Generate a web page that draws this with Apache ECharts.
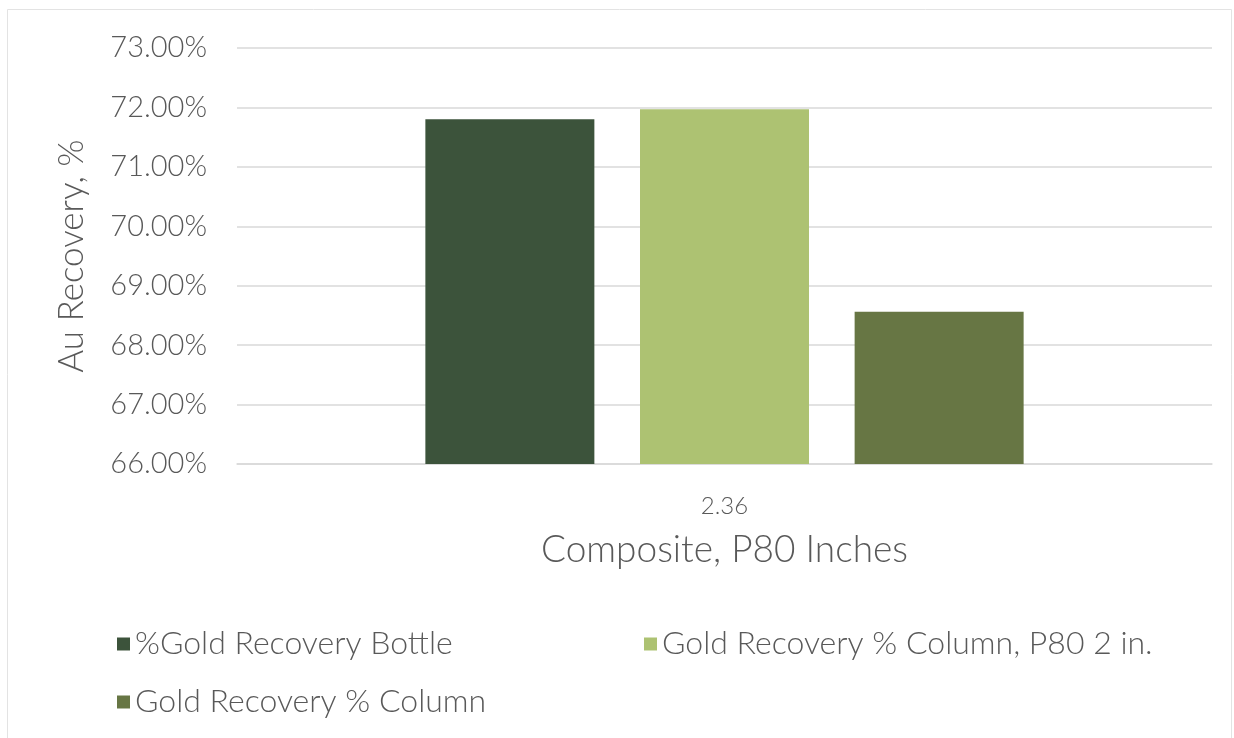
<!DOCTYPE html>
<html>
<head>
<meta charset="utf-8">
<script src="https://cdn.jsdelivr.net/npm/echarts@6/dist/echarts.min.js"></script>
<style>
html,body{margin:0;padding:0;background:#fff;}
#chart{width:1234px;height:738px;}
</style>
</head>
<body>
<div id="chart"></div>
<script>
const categories = ['2.36'];
const seriesNames = ['%Gold Recovery Bottle', 'Gold Recovery % Column, P80 2 in.', 'Gold Recovery % Column'];
const bottleValues = [71.80];
const columnP80Values = [71.97];
const columnValues = [68.56];
const yTicks = { min: 66, max: 73, interval: 1 };
const colors = ['#3c533b', '#adc272', '#677644'];

const FONT = 'Lato';
const TXT = '#595959';
const chart = echarts.init(document.getElementById('chart'));
const legendText = { color: TXT, fontSize: 32, fontFamily: FONT, fontWeight: 300 };
function legend(name, left, top) {
  return { data: [name], left: left, top: top, itemWidth: 13, itemHeight: 13, itemGap: 6, icon: 'rect', textStyle: legendText, selectedMode: false };
}
chart.setOption({
  animation: false,
  textStyle: { fontFamily: FONT },
  graphic: [{ type: 'rect', shape: { x: 7.5, y: 9.5, width: 1224, height: 740 }, style: { fill: 'none', stroke: '#e3e3e3', lineWidth: 1 } }],
  grid: { left: 237, right: 22, top: 48, bottom: 274 },
  legend: [
    legend(seriesNames[0], 112, 623),
    legend(seriesNames[1], 639, 623),
    legend(seriesNames[2], 112, 681)
  ],
  xAxis: {
    type: 'category', data: categories,
    axisLine: { lineStyle: { color: '#d9d9d9', width: 1.5 } },
    axisTick: { show: false },
    axisLabel: { color: TXT, fontSize: 24, fontWeight: 300, margin: 30 },
    name: 'Composite, P80 Inches', nameLocation: 'middle', nameGap: 68,
    nameTextStyle: { color: TXT, fontSize: 37, fontWeight: 300 }
  },
  yAxis: {
    type: 'value', min: yTicks.min, max: yTicks.max, interval: yTicks.interval,
    axisLabel: { color: TXT, fontSize: 29, fontWeight: 300, margin: 30, formatter: v => v.toFixed(2) + '%' },
    splitLine: { lineStyle: { color: '#d9d9d9', width: 1.5 } },
    axisLine: { show: false }, axisTick: { show: false },
    name: 'Au Recovery, %', nameLocation: 'middle', nameGap: 148, nameRotate: 90,
    nameTextStyle: { color: TXT, fontSize: 35, fontWeight: 300 }
  },
  series: [
    { name: seriesNames[0], type: 'bar', data: bottleValues, barWidth: 169, barGap: '27%', itemStyle: { color: colors[0] } },
    { name: seriesNames[1], type: 'bar', data: columnP80Values, barWidth: 169, barGap: '27%', itemStyle: { color: colors[1] } },
    { name: seriesNames[2], type: 'bar', data: columnValues, barWidth: 169, barGap: '27%', itemStyle: { color: colors[2] } }
  ]
});
</script>
</body>
</html>
